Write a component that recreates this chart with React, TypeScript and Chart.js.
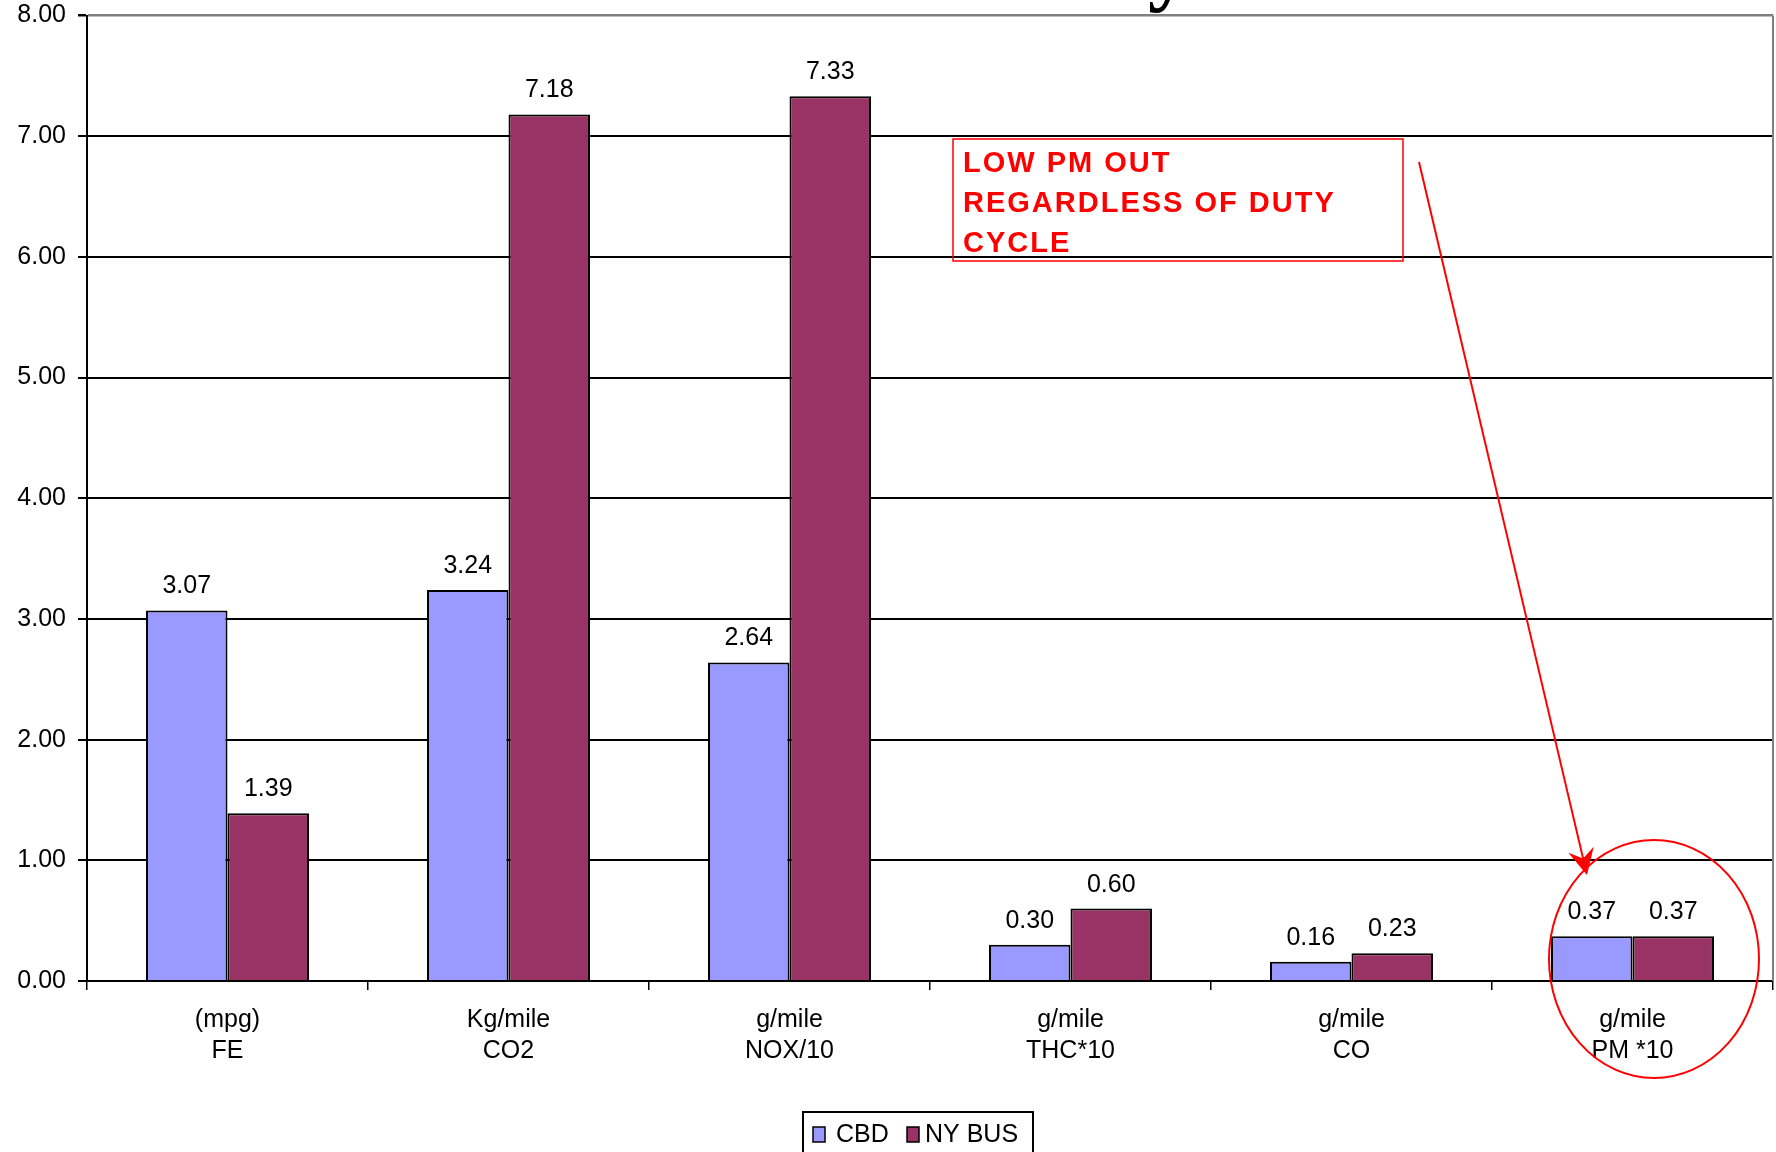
import React, { useEffect, useRef } from "react";
import { Chart, registerables } from "chart.js";

Chart.register(...registerables);

const categories: string[][] = [
  ["(mpg)", "FE"],
  ["Kg/mile", "CO2"],
  ["g/mile", "NOX/10"],
  ["g/mile", "THC*10"],
  ["g/mile", "CO"],
  ["g/mile", "PM *10"],
];
const seriesNames = ["CBD", "NY BUS"];
const cbdValues = [3.07, 3.24, 2.64, 0.3, 0.16, 0.37];
const nyBusValues = [1.39, 7.18, 7.33, 0.6, 0.23, 0.37];
const seriesColors = ["#9999FF", "#993366"];
const yMin = 0;
const yMax = 8;
const yStep = 1;
const noteLines = ["LOW PM OUT", "REGARDLESS OF DUTY", "CYCLE"];

const FONT = "'Liberation Sans', Arial, sans-serif";
const W = 1776;
const H = 1152;

const overlayPlugin = {
  id: "overlay",
  afterDatasetsDraw(chart: any) {
    const ctx = chart.ctx;
    ctx.save();
    ctx.font = `25px ${FONT}`;
    ctx.fillStyle = "#000";
    ctx.textAlign = "center";
    ctx.textBaseline = "alphabetic";
    chart.data.datasets.forEach((ds: any, i: number) => {
      const meta = chart.getDatasetMeta(i);
      meta.data.forEach((bar: any, j: number) => {
        const v = ds.data[j] as number;
        ctx.fillText(v.toFixed(2), bar.x, bar.y - 17);
      });
    });
    ctx.restore();
  },
  afterDraw(chart: any) {
    const ctx = chart.ctx;
    const ca = chart.chartArea;
    ctx.save();
    // right border of plot area
    ctx.strokeStyle = "#808080";
    ctx.lineWidth = 2;
    ctx.beginPath();
    ctx.moveTo(ca.right, ca.top);
    ctx.lineTo(ca.right, ca.bottom);
    ctx.stroke();

    // cut-off title descender
    ctx.fillStyle = "#000";
    ctx.font = `bold 84px 'Liberation Serif', 'Times New Roman', serif`;
    ctx.textAlign = "left";
    ctx.textBaseline = "alphabetic";
    ctx.fillText("y", 1148, -5);

    // legend
    ctx.strokeStyle = "#000";
    ctx.lineWidth = 2;
    ctx.strokeRect(803, 1112, 230, 60);
    const swX = [813, 907];
    const txX = [836, 925];
    ctx.font = `25px ${FONT}`;
    ctx.textBaseline = "alphabetic";
    seriesNames.forEach((name, i) => {
      ctx.fillStyle = seriesColors[i];
      ctx.fillRect(swX[i], 1127, 12, 15);
      ctx.lineWidth = 1.5;
      ctx.strokeStyle = "#000";
      ctx.strokeRect(swX[i], 1127, 12, 15);
      ctx.fillStyle = "#000";
      ctx.fillText(name, txX[i], 1142);
    });

    // annotation box
    ctx.strokeStyle = "#FF0000";
    ctx.lineWidth = 1.5;
    ctx.strokeRect(953, 139, 450, 122);
    ctx.fillStyle = "#FF0000";
    ctx.font = `bold 29px ${FONT}`;
    try {
      (ctx as any).letterSpacing = "2px";
    } catch (e) {}
    noteLines.forEach((t, i) => {
      ctx.fillText(t, 963, 172 + i * 40);
    });
    try {
      (ctx as any).letterSpacing = "0px";
    } catch (e) {}

    // arrow
    const x0 = 1419, y0 = 162, x1 = 1587, y1 = 875;
    const dx = x1 - x0, dy = y1 - y0;
    const len = Math.hypot(dx, dy);
    const ux = dx / len, uy = dy / len;
    const px = -uy, py = ux;
    ctx.strokeStyle = "#FF0000";
    ctx.lineWidth = 2;
    ctx.beginPath();
    ctx.moveTo(x0, y0);
    ctx.lineTo(x1 - ux * 14, y1 - uy * 14);
    ctx.stroke();
    ctx.beginPath();
    ctx.moveTo(x1, y1);
    ctx.lineTo(x1 - ux * 26 + px * 13, y1 - uy * 26 + py * 13);
    ctx.lineTo(x1 - ux * 17, y1 - uy * 17);
    ctx.lineTo(x1 - ux * 26 - px * 13, y1 - uy * 26 - py * 13);
    ctx.closePath();
    ctx.fill();

    // ellipse
    ctx.beginPath();
    ctx.ellipse(1654, 959, 105, 119, 0, 0, Math.PI * 2);
    ctx.stroke();
    ctx.restore();
  },
};

export default function App() {
  const ref = useRef<HTMLCanvasElement | null>(null);
  useEffect(() => {
    if (!ref.current) return;
    const chart = new Chart(ref.current, {
      type: "bar",
      data: {
        labels: categories,
        datasets: [
          {
            label: seriesNames[0],
            data: cbdValues,
            backgroundColor: seriesColors[0],
            borderColor: "#000",
            borderWidth: 2,
            categoryPercentage: 0.58,
            barPercentage: 1.0,
          },
          {
            label: seriesNames[1],
            data: nyBusValues,
            backgroundColor: seriesColors[1],
            borderColor: "#000",
            borderWidth: 2,
            categoryPercentage: 0.58,
            barPercentage: 1.0,
          },
        ],
      },
      options: {
        animation: false,
        responsive: false,
        maintainAspectRatio: false,
        layout: { padding: { top: 15.5, right: 3, bottom: 0, left: 0 } },
        plugins: {
          legend: { display: false },
          tooltip: { enabled: false },
          title: { display: false },
        },
        scales: {
          x: {
            offset: true,
            grid: {
              offset: true,
              drawOnChartArea: false,
              drawTicks: true,
              tickLength: 9,
              color: "#000",
              lineWidth: 1.5,
            },
            border: { display: true, color: "#000", width: 2 },
            ticks: {
              color: "#000",
              font: { family: FONT, size: 25, lineHeight: 1.25 },
              padding: 14,
              maxRotation: 0,
              autoSkip: false,
            },
            afterFit(scale: any) {
              scale.height = 171;
              scale.paddingLeft = 0;
              scale.paddingRight = 0;
            },
          },
          y: {
            min: yMin,
            max: yMax,
            ticks: {
              stepSize: yStep,
              color: "#000",
              font: { family: FONT, size: 25 },
              padding: 12,
              callback: (v: any) => Number(v).toFixed(2),
            },
            grid: {
              color: (c: any) => (c.tick && c.tick.value === yMax ? "#808080" : "#000"),
              tickColor: "#000",
              lineWidth: (c: any) => (c.tick && c.tick.value === yMax ? 2.5 : 2),
              tickLength: 9,
              drawTicks: true,
            },
            border: { display: true, color: "#000", width: 2 },
            afterFit(scale: any) {
              scale.width = 87;
              scale.paddingTop = 0;
              scale.paddingBottom = 0;
            },
          },
        },
      },
      plugins: [overlayPlugin],
    });
    return () => chart.destroy();
  }, []);
  return (
    <div style={{ position: "absolute", left: 0, top: 0, width: W, height: H, background: "#fff" }}>
      <canvas ref={ref} width={W} height={H} style={{ display: "block", width: W, height: H }} />
    </div>
  );
}
